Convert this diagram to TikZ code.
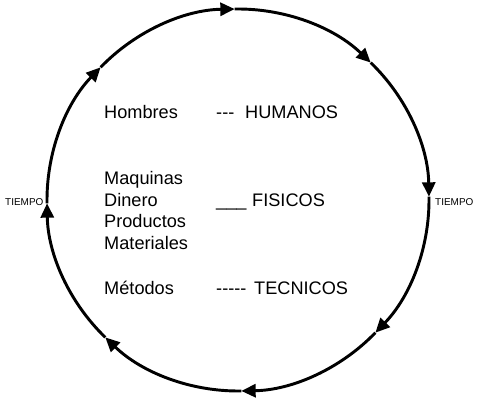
\documentclass[tikz,border=0pt]{standalone}
\usepackage{fontspec}
\setmainfont{Liberation Sans}
\usetikzlibrary{arrows.meta}
\tikzset{
  cyc/.style={line width=2.5pt,-{Triangle[length=4.3mm,width=3.9mm]}},
  lbl/.style={anchor=base west,inner sep=0pt,font=\fontsize{15.5}{18}\selectfont},
  tlbl/.style={anchor=west,inner sep=0pt,font=\fontsize{8.5}{10}\selectfont},
}
\newcommand{\hy}{\mbox{-}}

\begin{document}
\begin{tikzpicture}[x=0.03cm,y=0.03cm]
  \useasboundingbox (0,0) rectangle (477,400);
  % the time cycle, clockwise
  \coordinate (c) at (238,200);
  \foreach \a in {91,46,1,-44,-89,-134,-179,-224}{
    \draw[cyc] (c) ++({\a+45}:191) arc[start angle=\a+45,end angle=\a,radius=191];
  }
  \node[tlbl] (tleft) at (5,198) {TIEMPO};
  \node[tlbl] (tright) at (435,198) {TIEMPO};
  % resources
  \foreach \n/\t/\yy in {hom/Hombres/281, maq/Maquinas/215, din/Dinero/193,
      pro/Productos/172, mat/Materiales/150, met/Métodos/105}{
    \node[lbl] (\n) at (104,\yy) {\t};
  }
  % kinds
  \node[lbl] (d1) at (216,281) {\hy\hy\hy};
  \node[lbl] (hum) at (245,281) {HUMANOS};
  \node[lbl] (d2) at (216,193) {\_\_\_};
  \node[lbl] (fis) at (252,193) {FISICOS};
  \node[lbl] (d3) at (216,105) {\hy\hy\hy\hy\hy};
  \node[lbl] (tec) at (254,105) {TECNICOS};
\end{tikzpicture}
\end{document}
